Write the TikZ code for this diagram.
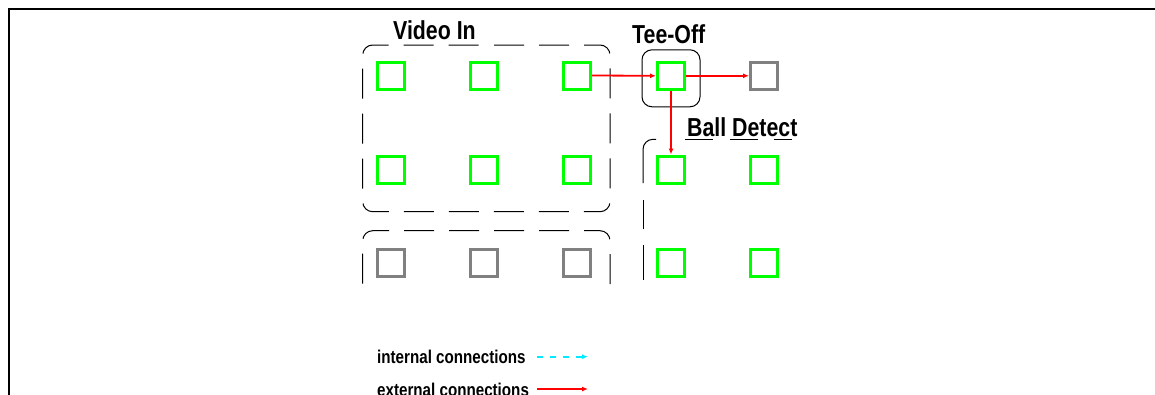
\documentclass[tikz,border=0pt]{standalone}
\usepackage{fontspec}
\setmainfont{Liberation Sans}[FakeStretch=0.82]
\usetikzlibrary{arrows.meta}
\definecolor{boxgreen}{RGB}{0,255,0}
\definecolor{boxgray}{RGB}{128,128,128}
\definecolor{intcyan}{RGB}{0,235,255}
\tikzset{
  sq/.style={draw, line width=3pt, minimum size=27pt, inner sep=0pt},
  gsq/.style={sq, draw=boxgreen},
  ysq/.style={sq, draw=boxgray},
  ext/.style={draw=red, line width=1.8pt, -{Latex[length=6pt,width=5pt]}},
  intc/.style={draw=intcyan, line width=2.2pt, dash pattern=on 6pt off 7pt, -{Latex[length=6pt,width=5pt]}},
  grp/.style={draw=black, line width=1pt, rounded corners=10pt},
  title/.style={font=\fontsize{26}{28}\selectfont\bfseries, inner sep=0pt, anchor=base west},
  legend/.style={font=\fontsize{18.5}{20}\selectfont\bfseries, inner sep=0pt, anchor=base west},
  frame/.style={draw=black, line width=2pt}
}
\begin{document}
\begin{tikzpicture}[x=1pt,y=-1pt]
\useasboundingbox (0,0) rectangle (1155,394);
\clip (0,0) rectangle (1155,394);
% frame lines
\draw[frame] (8,9) -- (1156,9);
\draw[frame] (9,8) -- (9,395);
% group boxes
\draw[grp, dash pattern=on 30pt off 15pt, dash phase=31pt]
  (480,45) -- (610,45) -- (610,211.7) -- (362.7,211.7) -- (362.7,45) -- (480,45);
\draw[grp, dash pattern=on 30pt off 15pt, dash phase=41.7pt]
  (362.7,287) -- (362.7,230.7) -- (610,230.7) -- (610,297);
\draw[grp] (643,183) -- (643,139.3) -- (656,139.3);
\draw[grp] (643,280) -- (643,245);
\draw[grp] (643,229) -- (643,200);
\draw[grp] (685,139.3) -- (713,139.3);
\draw[grp] (730,139.3) -- (758,139.3);
\draw[grp] (774,139.3) -- (792,139.3);
\node[draw=black, line width=1pt, rounded corners=10pt, minimum width=58pt, minimum height=57pt, inner sep=0pt] (teebox) at (671,78.3) {};
% titles
\node[title] (tvideo) at (393,39) {Video In};
\node[title] (ttee) at (632,43) {Tee-Off};
\node[title] (tball) at (687,136) {Ball Detect};
% video in squares
\node[gsq] (v11) at (391,75.5) {};
\node[gsq] (v12) at (484,75.5) {};
\node[gsq] (v13) at (577,75.5) {};
\node[gsq] (v21) at (391,169.5) {};
\node[gsq] (v22) at (484,169.5) {};
\node[gsq] (v23) at (577,169.5) {};
\node[ysq] (v31) at (391,262.5) {};
\node[ysq] (v32) at (484,262.5) {};
\node[ysq] (v33) at (577,262.5) {};
% tee-off and out
\node[gsq] (tee) at (671,75.8) {};
\node[ysq] (out) at (764,75.8) {};
% ball detect squares
\node[gsq] (b11) at (671,169.5) {};
\node[gsq] (b12) at (764,169.5) {};
\node[gsq] (b21) at (671,262.5) {};
\node[gsq] (b22) at (764,262.5) {};
% connections
\draw[ext] (v13.east) -- (tee.west);
\draw[ext] (tee.east) -- (out.west);
\draw[ext] (tee.south) -- (b11.north);
% legend
\node[legend] (lint) at (377,363) {internal connections};
\node[legend] (lext) at (377,396) {external connections};
\coordinate (i1) at (537,356.7);
\coordinate (i2) at (588,356.7);
\coordinate (e1) at (537,389);
\coordinate (e2) at (588,389);
\draw[intc] (i1) -- (i2);
\draw[ext] (e1) -- (e2);
\end{tikzpicture}
\end{document}
